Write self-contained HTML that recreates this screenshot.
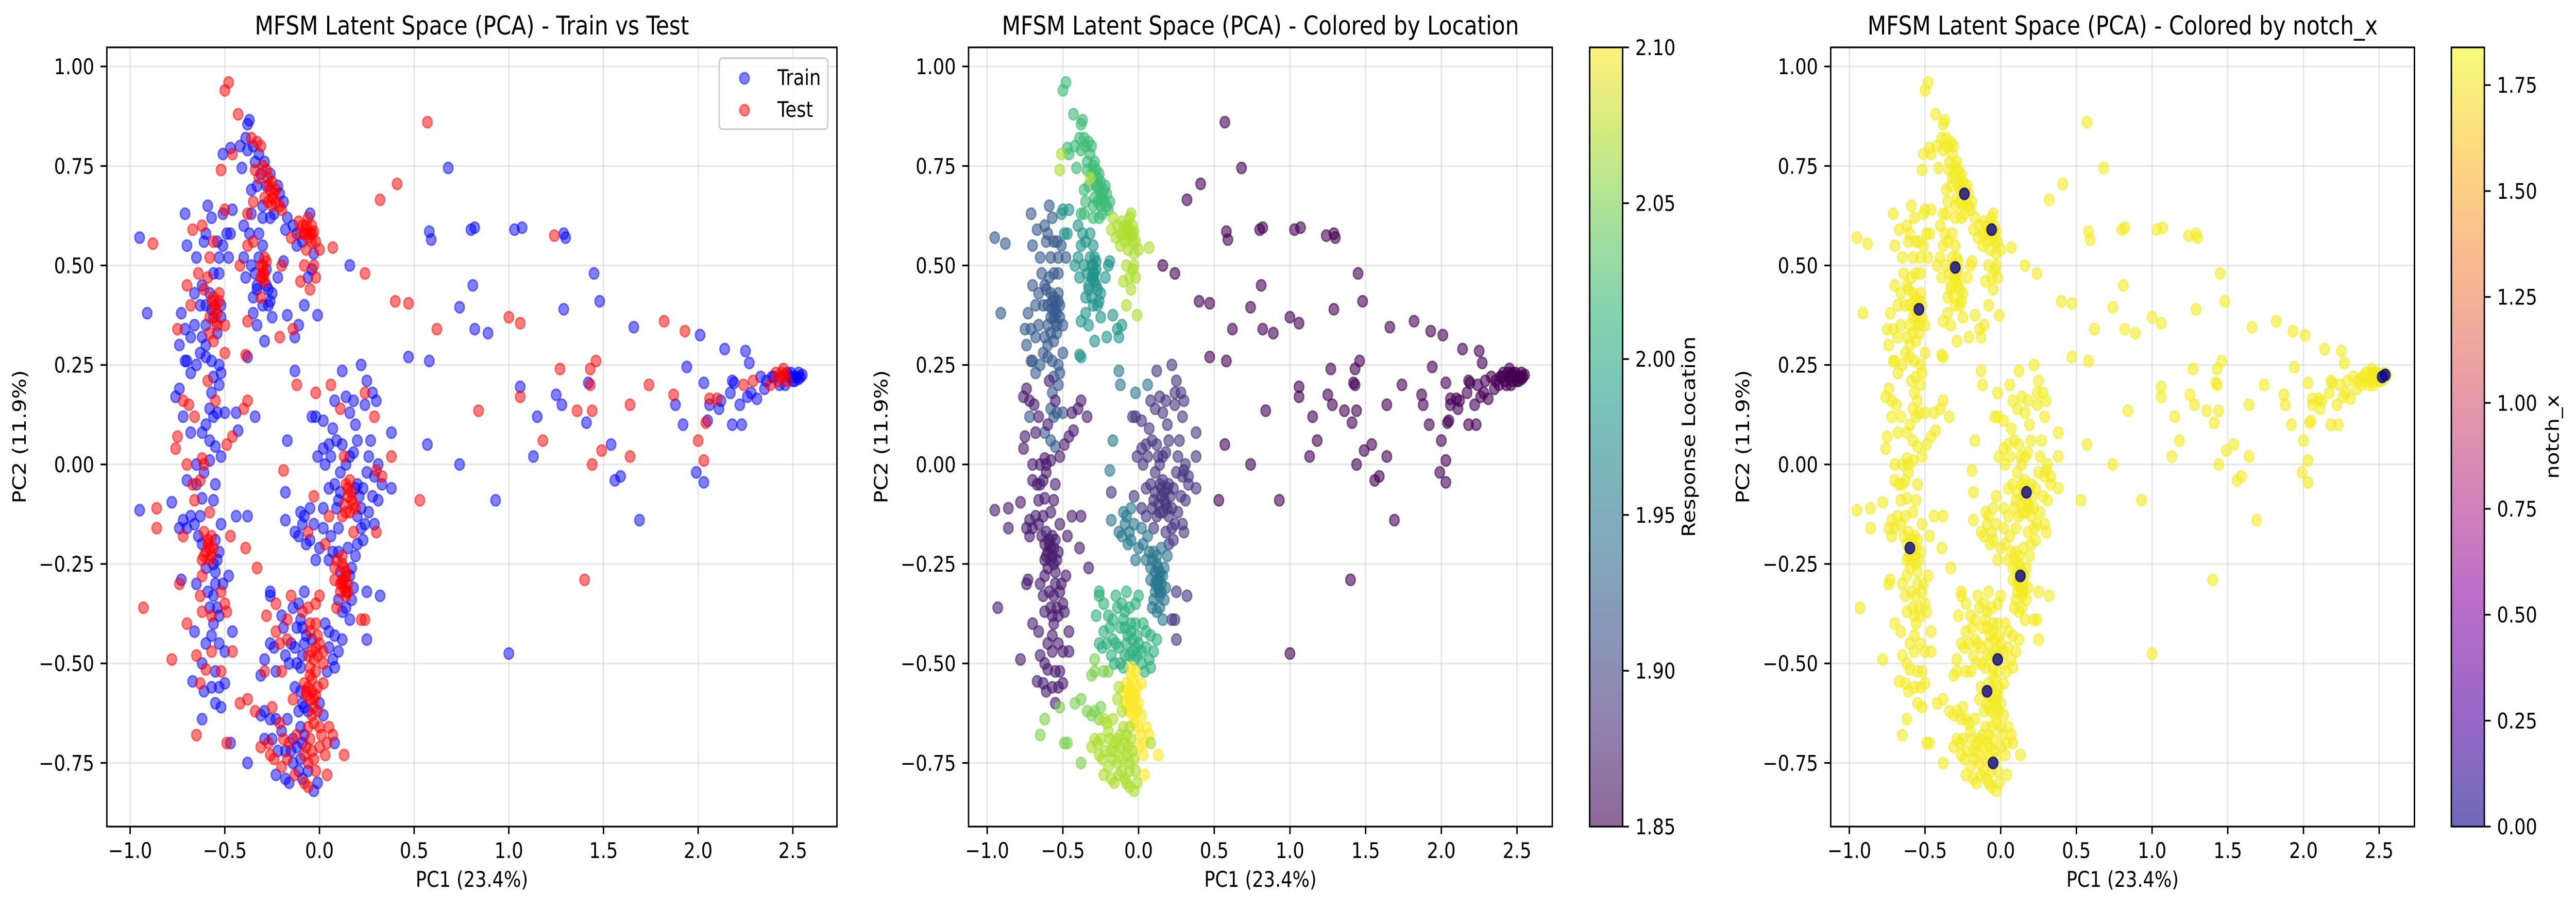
<!DOCTYPE html>
<html><head><meta charset="utf-8">
<style>
html,body{margin:0;padding:0;background:#fff;overflow:hidden;width:100vw;height:100vh;}
svg{display:block;width:100vw;height:100vh;font-family:"DejaVu Sans","Liberation Sans",sans-serif;}
</style></head>
<body>
<svg id="fig" xmlns="http://www.w3.org/2000/svg" viewBox="0 0 5931 1765" preserveAspectRatio="none">
<defs>
<linearGradient id="gViridis" x1="0" y1="1" x2="0" y2="0"></linearGradient>
<linearGradient id="gPlasma" x1="0" y1="1" x2="0" y2="0"></linearGradient>
</defs>
<rect x="0" y="0" width="5931" height="1765" fill="#fff"/>
</svg>
<script>
// ---- data (PC1, PC2, isTest) grouped by response location ----
const xTicks = [-1.0, -0.5, 0.0, 0.5, 1.0, 1.5, 2.0, 2.5];
const yTicks = [1.00, 0.75, 0.50, 0.25, 0.00, -0.25, -0.50, -0.75];
const locTicks = [1.85, 1.90, 1.95, 2.00, 2.05, 2.10];
const notchTicks = [0.00, 0.25, 0.50, 0.75, 1.00, 1.25, 1.50, 1.75];
const groupLocations = [1.85, 2.02, 2.07, 1.98, 1.92, 1.87, 2.05, 1.89, 1.95, 2.01, 2.10, 2.07];
const grpWing = [[2.40,0.22,0],[2.42,0.21,1],[2.44,0.23,1],[2.46,0.20,0],[2.48,0.22,0],[2.50,0.22,0],[2.52,0.22,0],[2.54,0.22,0],[2.55,0.225,0],[2.45,0.24,1],[2.43,0.20,0],[2.47,0.21,1],[2.49,0.23,0],[2.51,0.21,0],[2.53,0.23,0],[2.36,0.21,0],[2.38,0.20,1],[2.33,0.22,0],[2.44,0.22,1],[2.46,0.225,1],
[0.57,0.86,1],[0.68,0.745,0],[0.41,0.705,1],[0.32,0.665,1],[0.58,0.585,0],[0.59,0.565,0],[0.80,0.59,0],[0.82,0.595,0],[1.03,0.59,0],[1.07,0.595,0],[1.24,0.575,1],[1.29,0.58,0],[1.30,0.57,0],[0.16,0.50,0],[0.24,0.48,1],[1.45,0.48,0],[1.48,0.41,0],[0.40,0.41,1],[0.47,0.405,1],[0.74,0.395,0],[0.81,0.45,0],[1.29,0.39,0],[1.00,0.37,1],[1.06,0.355,1],[0.62,0.34,1],[0.82,0.34,0],[0.89,0.33,0],[1.82,0.36,1],[1.93,0.335,1],[2.01,0.325,0],[1.66,0.345,0],[2.14,0.29,0],[2.25,0.285,0],[2.27,0.255,0],[1.46,0.26,1],[1.43,0.24,1],[1.27,0.24,1],[1.94,0.245,0],[0.47,0.27,0],[0.58,0.26,0],[1.42,0.205,0],[1.43,0.20,1],[1.06,0.195,0],[1.74,0.20,1],[2.03,0.205,0],[2.18,0.21,0],[2.19,0.205,0],[2.29,0.21,1],[1.25,0.175,0],[1.06,0.17,1],[1.28,0.15,0],[1.64,0.15,1],[1.88,0.15,0],[1.87,0.175,1],[2.06,0.165,1],[2.10,0.165,1],[2.12,0.16,0],[2.06,0.15,0],[2.22,0.15,0],[2.17,0.18,0],[2.31,0.165,0],[0.84,0.135,1],[1.15,0.12,0],[1.36,0.135,1],[1.44,0.135,1],[1.41,0.105,0],[2.05,0.11,0],[2.04,0.105,1],[2.11,0.14,0],[1.92,0.10,0],[2.18,0.10,0],[2.23,0.10,0],[1.18,0.06,1],[2.00,0.06,1],[0.57,0.05,0],[1.54,0.05,0],[1.49,0.035,1],[1.13,0.02,0],[1.64,0.02,1],[0.74,0.00,0],[1.44,0.00,1],[2.03,0.01,1],[1.99,-0.02,0],[2.03,-0.045,0],[1.56,-0.04,0],[1.59,-0.03,0],[0.53,-0.09,1],[0.93,-0.09,0],[1.69,-0.14,0],[1.40,-0.29,1],[1.00,-0.475,0]];
const grpWingExtra = [[2.47,0.23,0],[2.50,0.21,0],[2.53,0.215,0],[2.41,0.23,1],[2.39,0.22,0],[2.35,0.19,0],[2.28,0.18,0],[2.24,0.20,1],[2.26,0.17,0]];
const grpTopGreen = [[-0.50,0.94,1],[-0.48,0.96,1],[-0.43,0.88,1],[-0.38,0.855,0],[-0.37,0.865,0],[-0.36,0.82,1],[-0.33,0.81,1],[-0.35,0.80,0],[-0.31,0.80,1],[-0.38,0.79,0],[-0.46,0.78,1],[-0.47,0.795,0],[-0.41,0.745,0],[-0.34,0.76,0],[-0.30,0.75,1],[-0.28,0.74,1],[-0.27,0.72,1],[-0.25,0.71,1],[-0.26,0.69,1],[-0.24,0.68,1],[-0.23,0.66,1],[-0.28,0.70,0],[-0.22,0.70,0],[-0.21,0.68,0],[-0.25,0.65,1],[-0.33,0.70,0],[-0.36,0.69,0],[-0.35,0.66,1],[-0.30,0.62,0],[-0.26,0.62,0],[-0.20,0.64,1],[-0.36,0.63,0],[-0.38,0.63,1],[-0.29,0.67,1],[-0.27,0.66,1],[-0.31,0.73,0]];
const grpTopGreenExtra = [[-0.27,0.70,1],[-0.25,0.67,1],[-0.23,0.69,1],[-0.26,0.73,0],[-0.29,0.76,0],[-0.32,0.78,0],[-0.34,0.74,1],[-0.30,0.65,0],[-0.21,0.65,1],[-0.24,0.63,0],[-0.19,0.66,0],[-0.39,0.82,0],[-0.42,0.80,0]];
const grpTopYellow = [[-0.51,0.78,0],[-0.52,0.74,1],[-0.32,0.72,1],[-0.17,0.62,0],[-0.14,0.60,0],[-0.11,0.61,1],[-0.09,0.60,1],[-0.07,0.59,1],[-0.05,0.58,1],[-0.03,0.585,1],[-0.06,0.62,1],[-0.05,0.63,0],[-0.12,0.58,0],[-0.09,0.56,0],[-0.15,0.57,1],[-0.04,0.56,1],[-0.07,0.54,1],[-0.03,0.53,0],[-0.08,0.50,1],[-0.04,0.49,0],[0.0,0.54,1],[0.07,0.545,1],[-0.02,0.47,1],[-0.06,0.47,0],[-0.10,0.46,1],[-0.05,0.44,1],[-0.08,0.40,0],[-0.01,0.375,0],[-0.08,0.58,1],[-0.04,0.60,1],[-0.18,0.59,0]];
const grpTopYellowExtra = [[-0.06,0.57,1],[-0.04,0.58,1],[-0.07,0.60,1],[-0.10,0.58,1],[-0.02,0.56,1],[-0.12,0.55,0],[-0.03,0.50,1]];
const grpTeal = [[-0.11,0.35,0],[-0.13,0.32,0],[-0.17,0.375,0],[-0.14,0.34,1],[-0.21,0.32,1],[-0.19,0.51,0],[-0.2,0.50,1],[-0.22,0.47,0],[-0.25,0.43,0],[-0.26,0.41,0],[-0.27,0.44,0],[-0.29,0.46,1],[-0.30,0.48,1],[-0.31,0.50,1],[-0.29,0.52,1],[-0.28,0.49,0],[-0.30,0.55,0],[-0.32,0.58,0],[-0.35,0.56,1],[-0.38,0.55,1],[-0.40,0.52,0],[-0.42,0.50,1],[-0.36,0.50,0],[-0.39,0.47,0],[-0.33,0.44,0],[-0.31,0.42,1],[-0.30,0.40,0],[-0.29,0.31,0],[-0.33,0.35,0],[-0.35,0.38,0],[-0.38,0.36,1],[-0.38,0.27,0],[-0.39,0.275,1],[-0.33,0.45,0],[-0.40,0.60,0],[-0.46,0.64,0],[-0.50,0.64,1],[-0.51,0.63,0],[-0.47,0.58,0],[-0.49,0.58,0],[-0.30,0.47,1],[-0.28,0.51,1]];
const grpTealExtra = [[-0.30,0.50,1],[-0.29,0.48,1],[-0.31,0.47,1],[-0.28,0.45,0],[-0.32,0.52,0],[-0.34,0.48,0],[-0.27,0.40,0],[-0.25,0.37,0],[-0.35,0.42,0],[-0.37,0.58,0]];
const grpSlate = [[-0.51,0.55,0],[-0.56,0.56,1],[-0.54,0.56,0],[-0.55,0.40,1],[-0.54,0.38,1],[-0.56,0.42,1],[-0.53,0.43,1],[-0.55,0.36,1],[-0.57,0.39,0],[-0.52,0.37,0],[-0.58,0.37,1],[-0.60,0.40,0],[-0.61,0.44,1],[-0.59,0.47,1],[-0.56,0.48,0],[-0.53,0.48,0],[-0.64,0.48,1],[-0.62,0.45,0],[-0.66,0.43,0],[-0.70,0.45,1],[-0.63,0.40,0],[-0.60,0.35,0],[-0.58,0.33,1],[-0.56,0.31,1],[-0.54,0.33,0],[-0.50,0.35,1],[-0.62,0.32,0],[-0.66,0.35,0],[-0.71,0.34,0],[-0.75,0.34,1],[-0.74,0.30,0],[-0.68,0.32,0],[-0.63,0.28,0],[-0.60,0.27,0],[-0.57,0.26,0],[-0.53,0.25,0],[-0.56,0.22,0],[-0.52,0.23,0],[-0.70,0.26,0],[-0.71,0.26,0],[-0.91,0.38,0],[-0.95,0.57,0],[-0.88,0.555,1],[-0.71,0.63,0],[-0.70,0.55,0],[-0.67,0.59,1],[-0.62,0.60,1],[-0.59,0.65,0],[-0.61,0.56,0],[-0.57,0.18,0],[-0.58,0.14,0],[-0.54,0.13,0],[-0.56,0.12,0],[-0.50,0.13,0],[-0.72,0.12,0],[-0.62,0.08,0],[-0.58,0.06,0],[-0.55,0.045,0]];
const grpSlateExtra = [[-0.55,0.39,1],[-0.53,0.41,1],[-0.57,0.41,1],[-0.54,0.35,1],[-0.56,0.37,0],[-0.52,0.40,0],[-0.58,0.43,0],[-0.60,0.30,0],[-0.65,0.25,0],[-0.68,0.23,0],[-0.53,0.20,0],[-0.50,0.28,1],[-0.48,0.52,0],[-0.53,0.52,0],[-0.58,0.52,1],[-0.65,0.52,0],[-0.68,0.40,1],[-0.73,0.38,0],[-0.60,0.58,0],[-0.57,0.62,0]];
const grpPurpleLeft = [[-0.59,0.21,1],[-0.55,0.16,1],[-0.76,0.17,0],[-0.74,0.19,0],[-0.72,0.16,1],[-0.69,0.15,1],[-0.75,0.07,1],[-0.76,0.04,1],[-0.49,0.05,1],[-0.46,0.07,1],[-0.43,0.085,0],[-0.44,0.13,0],[-0.40,0.14,1],[-0.38,0.16,1],[-0.34,0.12,0],[-0.70,0.0,1],[-0.65,0.0,0],[-0.62,0.015,1],[-0.61,0.0,1],[-0.58,0.01,0],[-0.61,-0.02,0],[-0.70,-0.04,0],[-0.67,-0.05,1],[-0.63,-0.04,1],[-0.66,-0.09,1],[-0.62,-0.085,0],[-0.56,-0.09,0],[-0.95,-0.115,0],[-0.86,-0.11,1],[-0.86,-0.16,1],[-0.78,-0.095,0],[-0.74,-0.16,0],[-0.70,-0.16,0],[-0.72,-0.18,1],[-0.66,-0.15,0],[-0.63,-0.13,0],[-0.61,-0.17,1],[-0.59,-0.19,1],[-0.60,-0.22,1],[-0.58,-0.21,1],[-0.57,-0.23,1],[-0.62,-0.24,1],[-0.55,-0.19,0],[-0.56,-0.25,0],[-0.53,-0.22,0],[-0.60,-0.26,0],[-0.62,-0.28,1],[-0.55,-0.27,0],[-0.44,-0.13,0],[-0.38,-0.13,0],[-0.39,-0.21,1],[-0.33,-0.26,1],[-0.47,-0.18,1],[-0.74,-0.30,1],[-0.73,-0.29,0],[-0.93,-0.36,1],[-0.65,-0.30,0],[-0.63,-0.33,1],[-0.59,-0.32,0],[-0.55,-0.30,0],[-0.51,-0.30,0],[-0.52,-0.32,1],[-0.56,-0.33,0],[-0.50,-0.35,1],[-0.58,-0.36,0],[-0.54,-0.36,0],[-0.62,-0.37,1],[-0.53,-0.38,0],[-0.49,-0.37,1],[-0.56,-0.40,0],[-0.57,-0.43,0],[-0.46,-0.42,0],[-0.46,-0.47,1],[-0.50,-0.47,0],[-0.52,-0.52,1],[-0.55,-0.52,0],[-0.57,-0.47,1],[-0.65,-0.48,1],[-0.62,-0.50,0],[-0.60,-0.515,1],[-0.78,-0.49,1],[-0.53,-0.56,0],[-0.57,-0.56,0],[-0.61,-0.57,0],[-0.67,-0.545,0]];
const grpPurpleLeftExtra = [[-0.59,-0.20,1],[-0.57,-0.18,1],[-0.61,-0.23,1],[-0.56,-0.21,1],[-0.58,-0.24,1],[-0.62,-0.20,0],[-0.54,-0.24,0],[-0.64,-0.18,0],[-0.68,-0.13,0],[-0.72,-0.14,0],[-0.65,-0.05,0],[-0.68,0.08,0],[-0.66,0.12,1],[-0.60,0.10,0],[-0.52,0.02,0],[-0.55,-0.05,0],[-0.58,-0.12,1],[-0.52,-0.15,0],[-0.48,-0.28,0],[-0.57,-0.38,1],[-0.53,-0.45,0],[-0.60,-0.45,0],[-0.63,-0.55,1],[-0.50,-0.55,0],[-0.55,-0.60,0],[-0.70,-0.40,1],[-0.66,-0.42,0]];
const grpBottomLeftGreen = [[-0.52,-0.61,0],[-0.62,-0.64,0],[-0.65,-0.68,1],[-0.49,-0.70,1],[-0.47,-0.70,0],[-0.38,-0.75,0],[-0.34,-0.62,1],[-0.38,-0.59,1],[-0.42,-0.60,1],[-0.29,-0.62,0],[-0.31,-0.63,0],[-0.26,-0.64,0],[-0.25,-0.61,1],[-0.20,-0.52,1],[-0.23,-0.52,0],[-0.31,-0.53,0],[-0.29,-0.49,0],[-0.29,-0.52,1]];
const grpMidDark = [[0.17,-0.07,1],[0.15,-0.08,1],[0.14,-0.05,1],[0.18,-0.10,1],[0.16,-0.12,1],[0.13,-0.10,1],[0.19,-0.06,0],[0.21,-0.08,0],[0.22,-0.11,0],[0.12,-0.13,1],[0.10,-0.09,0],[0.08,-0.05,0],[0.11,-0.02,0],[0.13,0.02,1],[0.12,0.05,0],[0.09,0.06,0],[0.05,0.05,0],[0.02,0.04,0],[0.03,0.0,0],[-0.01,0.02,0],[0.06,0.02,0],[0.16,0.02,0],[0.18,0.03,0],[0.26,0.02,0],[0.31,0.0,0],[0.29,-0.03,0],[0.33,-0.05,0],[0.28,-0.08,0],[0.31,-0.09,0],[0.38,0.08,0],[0.38,0.02,1],[0.38,-0.06,0],[0.33,-0.03,1],[0.30,-0.015,1],[0.26,-0.12,0],[0.29,-0.15,0],[0.30,-0.17,1],[0.24,-0.15,0],[0.20,-0.13,0],[0.10,-0.16,0],[0.05,-0.13,1],[0.02,-0.11,0],[-0.03,-0.08,1],[-0.18,-0.07,0],[-0.04,0.12,0],[-0.02,0.12,0],[0.02,0.11,0],[0.08,0.16,0],[0.11,0.14,1],[0.12,0.235,0],[0.14,0.17,0],[0.16,0.13,0],[0.18,0.16,0],[0.22,0.25,0],[0.25,0.21,0],[0.24,0.18,1],[0.24,0.15,0],[0.28,0.18,0],[0.29,0.12,1],[0.30,0.16,0],[0.19,0.10,0],[0.20,-0.20,0],[0.23,-0.19,0],[0.25,-0.32,0],[0.32,-0.33,0],[0.22,-0.39,1],[0.24,-0.39,1],[0.25,-0.44,0]];
const grpMidDarkExtra = [[0.15,-0.06,1],[0.17,-0.09,1],[0.19,-0.11,1],[0.14,-0.12,1],[0.16,-0.04,1],[0.20,-0.05,0],[0.23,-0.06,0],[0.11,-0.07,0],[0.09,-0.11,0],[0.14,0.0,0],[0.07,0.09,0],[0.20,0.06,0],[0.25,-0.02,0],[0.27,0.06,0],[0.22,-0.16,0],[0.18,-0.17,1],[0.05,-0.06,0]];
const grpMidTeal = [[-0.05,-0.11,0],[-0.1,-0.12,0],[-0.08,-0.13,0],[-0.09,-0.15,0],[-0.06,-0.17,1],[-0.07,-0.20,0],[-0.11,-0.18,0],[-0.13,-0.17,0],[-0.18,-0.14,0],[-0.19,-0.015,1],[-0.17,0.06,0],[-0.13,0.235,0],[-0.12,0.2,1],[-0.02,0.18,1],[0.06,0.20,1],[-0.05,-0.19,0],[0.0,-0.21,0],[0.03,-0.20,1],[0.07,-0.22,0],[0.05,-0.24,0],[0.09,-0.24,1],[0.12,-0.23,1],[0.15,-0.21,0],[0.19,-0.23,0],[0.17,-0.26,0],[0.11,-0.27,0],[0.13,-0.26,1],[0.14,-0.28,1],[0.12,-0.29,1],[0.13,-0.31,1],[0.15,-0.30,1],[0.11,-0.32,1],[0.14,-0.33,1],[0.10,-0.34,0],[0.08,-0.29,1],[0.08,-0.26,1],[0.17,-0.34,0],[0.14,-0.36,0],[0.12,-0.37,0],[0.16,-0.39,0],[-0.02,-0.24,0],[0.12,-0.30,1],[0.14,-0.32,1]];
const grpMidTealExtra = [[0.12,-0.25,1],[0.14,-0.27,1],[0.13,-0.29,1],[0.15,-0.32,1],[0.11,-0.30,1],[0.16,-0.28,0],[0.10,-0.22,0],[0.06,-0.18,0],[0.02,-0.16,0],[-0.03,-0.15,0],[0.18,-0.31,0],[0.09,-0.36,1]];
const grpBottomGreen = [[-0.26,-0.32,0],[-0.26,-0.33,0],[-0.28,-0.38,1],[-0.23,-0.35,1],[-0.20,-0.38,0],[-0.17,-0.39,1],[-0.15,-0.33,1],[-0.11,-0.35,0],[-0.09,-0.37,1],[-0.06,-0.36,1],[-0.02,-0.35,1],[0.0,-0.33,1],[-0.08,-0.32,0],[-0.12,-0.41,0],[-0.09,-0.41,0],[-0.05,-0.40,1],[-0.02,-0.40,1],[0.03,-0.40,0],[-0.23,-0.42,1],[-0.26,-0.45,0],[-0.24,-0.46,0],[-0.17,-0.44,1],[-0.15,-0.45,0],[-0.13,-0.46,0],[-0.08,-0.45,0],[-0.04,-0.44,0],[0.0,-0.45,1],[0.05,-0.46,0],[0.08,-0.43,0],[0.12,-0.44,0],[-0.06,-0.48,1],[-0.03,-0.49,1],[-0.01,-0.48,1],[0.02,-0.50,1],[0.04,-0.52,0],[0.07,-0.49,0],[0.08,-0.51,0],[-0.10,-0.51,0],[-0.12,-0.50,0],[-0.16,-0.50,0],[-0.04,-0.47,1],[-0.02,-0.46,1]];
const grpBottomGreenExtra = [[-0.05,-0.42,1],[-0.01,-0.43,1],[0.02,-0.47,1],[-0.07,-0.43,0],[-0.10,-0.39,0],[-0.14,-0.36,0],[-0.19,-0.41,0],[-0.21,-0.45,1],[0.05,-0.42,0],[0.10,-0.47,0],[-0.18,-0.48,0],[-0.09,-0.48,0]];
const grpBottomYellow = [[-0.05,-0.51,1],[-0.02,-0.52,1],[-0.08,-0.55,1],[-0.06,-0.56,1],[-0.04,-0.57,1],[-0.07,-0.58,1],[-0.05,-0.59,1],[-0.02,-0.58,1],[-0.03,-0.61,1],[-0.06,-0.62,0],[-0.09,-0.60,0],[-0.10,-0.57,0],[0.0,-0.60,0],[0.02,-0.63,0],[0.0,-0.66,1],[0.05,-0.66,1],[0.04,-0.70,1],[-0.03,-0.65,1],[0.07,-0.68,1],[0.13,-0.73,1],[0.04,-0.78,1],[-0.04,-0.54,1],[-0.01,-0.56,1]];
const grpBottomYellowExtra = [[-0.05,-0.53,1],[-0.07,-0.57,1],[-0.03,-0.59,1],[-0.01,-0.62,1],[-0.04,-0.63,1],[0.01,-0.68,1],[0.03,-0.73,1],[0.0,-0.71,1],[-0.08,-0.61,0],[0.02,-0.55,1]];
const grpBottomLight = [[-0.13,-0.56,0],[-0.14,-0.59,1],[-0.11,-0.62,0],[-0.06,-0.66,1],[-0.05,-0.69,1],[-0.04,-0.72,1],[-0.07,-0.71,1],[-0.09,-0.70,0],[-0.1,-0.74,0],[-0.08,-0.73,1],[-0.06,-0.75,1],[-0.03,-0.74,1],[-0.02,-0.77,1],[-0.06,-0.77,0],[-0.12,-0.71,0],[-0.14,-0.69,0],[-0.16,-0.70,1],[-0.18,-0.72,0],[-0.19,-0.69,1],[-0.22,-0.72,0],[-0.17,-0.74,1],[-0.14,-0.75,0],[-0.20,-0.67,0],[-0.23,-0.64,0],[-0.27,-0.70,1],[-0.31,-0.71,1],[-0.29,-0.69,0],[-0.26,-0.73,1],[-0.24,-0.74,1],[-0.23,-0.78,0],[-0.18,-0.79,0],[-0.16,-0.80,0],[-0.06,-0.81,1],[-0.03,-0.82,0],[0.08,-0.70,0]];
const grpBottomLightExtra = [[-0.10,-0.66,0],[-0.12,-0.68,1],[-0.08,-0.68,0],[-0.11,-0.77,0],[-0.09,-0.79,0],[-0.13,-0.78,1],[-0.15,-0.72,0],[-0.20,-0.76,1],[-0.25,-0.69,0],[-0.21,-0.65,1],[-0.17,-0.64,0],[-0.08,-0.80,1],[-0.01,-0.80,0]];
const allGroups = [grpWing.concat(grpWingExtra), grpTopGreen.concat(grpTopGreenExtra), grpTopYellow.concat(grpTopYellowExtra), grpTeal.concat(grpTealExtra), grpSlate.concat(grpSlateExtra), grpPurpleLeft.concat(grpPurpleLeftExtra), grpBottomLeftGreen, grpMidDark.concat(grpMidDarkExtra), grpMidTeal.concat(grpMidTealExtra), grpBottomGreen.concat(grpBottomGreenExtra), grpBottomYellow.concat(grpBottomYellowExtra), grpBottomLight.concat(grpBottomLightExtra)];
const notchDefault = 1.78;
const notchZeroPC1 = [-0.24, -0.06, -0.30, -0.54, 0.17, -0.60, 0.13, -0.02, -0.09, -0.05, 2.52, 2.54];
const notchZeroPC2 = [0.68, 0.59, 0.495, 0.39, -0.07, -0.21, -0.28, -0.49, -0.57, -0.75, 0.22, 0.225];

// ---- rendering ----
const NS = "http://www.w3.org/2000/svg";
const svg = document.getElementById('fig');
const XD = [-1.123, 2.733], YD = [-0.910, 1.048];
const AX_TOP = 92, AX_BOT = 1605;
const panels = [{l:246,r:1927},{l:2230,r:3574},{l:4215,r:5559}];
const VIR = [[68,1,84],[72,40,120],[62,74,137],[49,104,142],[38,130,142],[31,158,137],[53,183,121],[109,205,89],[180,222,44],[253,231,37]];
const PLA = [[13,8,135],[84,2,163],[139,10,165],[185,50,137],[219,92,104],[244,136,73],[254,188,43],[240,249,33]];
function cmap(stops,t){t=Math.max(0,Math.min(1,t));const n=stops.length-1;const i=Math.min(n-1,Math.floor(t*n));const f=t*n-i;const a=stops[i],b=stops[i+1];return 'rgb('+[0,1,2].map(k=>Math.round(a[k]+(b[k]-a[k])*f)).join(',')+')';}
function mk(tag,attrs,parent){const e=document.createElementNS(NS,tag);for(const k in attrs)e.setAttribute(k,attrs[k]);(parent||svg).appendChild(e);return e;}
function txt(str,attrs,parent){const e=mk('text',attrs,parent);e.textContent=str;return e;}
function fmt(v,d){return (v<0?'\u2212':'')+Math.abs(v).toFixed(d);}
function xs(p,v){return p.l+(v-XD[0])/(XD[1]-XD[0])*(p.r-p.l);}
function ys(v){return AX_BOT-(v-YD[0])/(YD[1]-YD[0])*(AX_BOT-AX_TOP);}

[['gViridis',VIR],['gPlasma',PLA]].forEach(([id,st])=>{const g=document.getElementById(id);st.forEach((c,i)=>{mk('stop',{offset:(i/(st.length-1)),'stop-color':'rgb('+c.join(',')+')'},g);});});

const titles = ['MFSM Latent Space (PCA) - Train vs Test','MFSM Latent Space (PCA) - Colored by Location','MFSM Latent Space (PCA) - Colored by notch_x'];
const panelNames = ['train-test-panel','location-panel','notch-panel'];

panels.forEach((p,pi)=>{
  const g = mk('g',{});
  
  
  xTicks.forEach(v=>{const l=mk('line',{x1:xs(p,v),x2:xs(p,v),y1:AX_TOP,y2:AX_BOT,stroke:'#b0b0b0','stroke-opacity':0.3,'stroke-width':3.3},g);
    
    });
  yTicks.forEach(v=>{const l=mk('line',{x1:p.l,x2:p.r,y1:ys(v),y2:ys(v),stroke:'#b0b0b0','stroke-opacity':0.3,'stroke-width':3.3},g);
    
    });
  const pts = mk('g',{},g);
  
  
  function dot(x,y,color,op,name){const c=mk('circle',{cx:xs(p,x),cy:ys(y),r:11,fill:color,'fill-opacity':op,stroke:color,'stroke-opacity':op,'stroke-width':3},pts);
    
    }
  if(pi===0){
    [0,1].forEach(t=>{allGroups.forEach(gr=>gr.forEach(d=>{if(d[2]===t)dot(d[0],d[1],t?'#ff0000':'#0000ff',0.5,t?'test-point':'train-point');}));});
  } else if(pi===1){
    allGroups.forEach((gr,gi)=>gr.forEach(d=>dot(d[0],d[1],cmap(VIR,(groupLocations[gi]-1.85)/0.25),0.6,'location-point')));
  } else {
    allGroups.forEach(gr=>gr.forEach(d=>dot(d[0],d[1],cmap(PLA,notchDefault/1.839),0.6,'notch-point')));
    notchZeroPC1.forEach((x,i)=>dot(x,notchZeroPC2[i],cmap(PLA,0),0.8,'notch-zero-point'));
  }
  const fr=mk('rect',{x:p.l,y:AX_TOP,width:p.r-p.l,height:AX_BOT-AX_TOP,fill:'none',stroke:'#000','stroke-width':3.3},g);
  
  
  xTicks.forEach(v=>{const x=xs(p,v);mk('line',{x1:x,x2:x,y1:AX_BOT,y2:AX_BOT+14.6,stroke:'#000','stroke-width':3.3},g);
    const t=txt(fmt(v,1),{x:x,y:1666,'font-size':41.7,'text-anchor':'middle'},g);
    
    });
  yTicks.forEach(v=>{const y=ys(v);mk('line',{x1:p.l-14.6,x2:p.l,y1:y,y2:y,stroke:'#000','stroke-width':3.3},g);
    const t=txt(fmt(v,2),{x:p.l-29,y:y+15,'font-size':41.7,'text-anchor':'end'},g);
    
    });
  const tt=txt(titles[pi],{x:(p.l+p.r)/2,y:67,'font-size':50,'text-anchor':'middle'},g);
  
  
  const xl=txt('PC1 (23.4%)',{x:(p.l+p.r)/2,y:1722,'font-size':41.7,'text-anchor':'middle'},g);
  
  
  const ylx=[48,2032,4016][pi];
  const yl=txt('PC2 (11.9%)',{x:ylx,y:848,'font-size':41.7,'text-anchor':'middle',transform:'rotate(-90 '+ylx+' 848)','dominant-baseline':'middle'},g);
  
  
});

const lg=mk('g',{});


mk('rect',{x:1656,y:113,width:250,height:138,rx:8,fill:'#fff','fill-opacity':0.8,stroke:'#cccccc','stroke-width':3.3},lg);
[['Train','#0000ff',152,165],['Test','#ff0000',214,227]].forEach(([lab,col,cy,by])=>{
  const c=mk('circle',{cx:1714,cy:cy,r:11,fill:col,'fill-opacity':0.5,stroke:col,'stroke-opacity':0.5,'stroke-width':3},lg);
  
  
  const t=txt(lab,{x:1790,y:by,'font-size':41.7},lg);
  
  
});

function colorbar(x0,x1,grad,ticks,vmin,vmax,dec,label,labelX,name){
  const g=mk('g',{});
  
  
  mk('rect',{x:x0,y:AX_TOP,width:x1-x0,height:AX_BOT-AX_TOP,fill:'url(#'+grad+')','fill-opacity':0.6},g);
  mk('rect',{x:x0,y:AX_TOP,width:x1-x0,height:AX_BOT-AX_TOP,fill:'none',stroke:'#000','stroke-width':3.3},g);
  ticks.forEach(v=>{const y=AX_BOT-(v-vmin)/(vmax-vmin)*(AX_BOT-AX_TOP);
    mk('line',{x1:x1,x2:x1+14.6,y1:y,y2:y,stroke:'#000','stroke-width':3.3},g);
    const t=txt(v.toFixed(dec),{x:x1+29,y:y+15,'font-size':41.7},g);
    
    });
  const l=txt(label,{x:labelX,y:848,'font-size':41.7,'text-anchor':'middle','dominant-baseline':'middle',transform:'rotate(-90 '+labelX+' 848)'},g);
  
  
}
colorbar(3660,3736,'gViridis',locTicks,1.85,2.10,2,'Response Location',3891,'location-colorbar');
colorbar(5644,5720,'gPlasma',notchTicks,0,1.839,2,'notch_x',5880,'notch-colorbar');
</script>
</body></html>
